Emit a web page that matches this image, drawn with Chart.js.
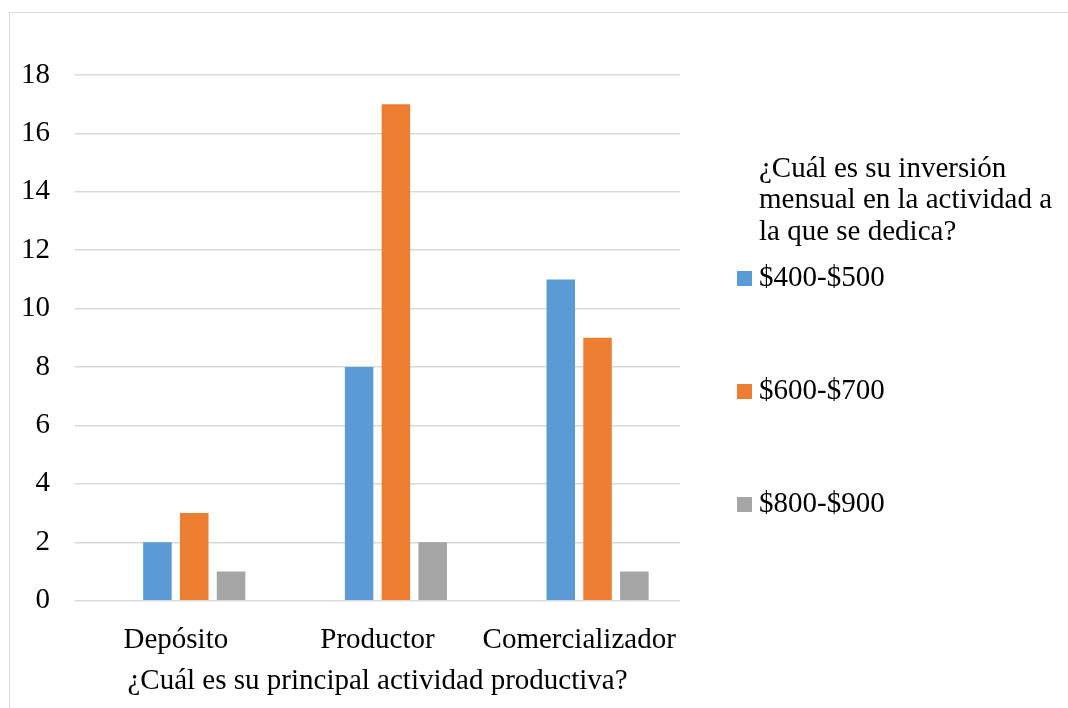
<!DOCTYPE html>
<html lang="es">
<head>
<meta charset="utf-8">
<title>Inversión mensual por actividad productiva</title>
<script src="https://cdn.jsdelivr.net/npm/chart.js@4/dist/chart.umd.min.js"></script>
<style>
  html, body { margin: 0; padding: 0; background: #fff; }
  #wrap { position: relative; width: 1068px; height: 708px; overflow: hidden; }
  #frame {
    position: absolute; left: 8.5px; top: 11.5px; right: -10px; bottom: -10px;
    border-top: 1.5px solid #d9d9d9; border-left: 1.5px solid #d9d9d9;
  }
  #chart { position: absolute; left: 0; top: 0; }
  #legend {
    position: absolute; left: 737px; top: 151.5px;
    font-family: "Liberation Serif", "Times New Roman", serif;
    font-size: 29px; line-height: 31.5px; color: #000; white-space: nowrap;
  }
  #legend .title { padding-left: 22px; }
  #legend .item { margin-top: 81.5px; }
  #legend .title + .item { margin-top: 14.5px; }
  #legend .swatch {
    display: inline-block; width: 15px; height: 15px; margin-right: 7px;
    vertical-align: baseline;
  }
</style>
</head>
<body>
<div id="wrap">
  <div id="frame"></div>
  <canvas id="chart" width="1068" height="708"></canvas>
  <div id="legend"></div>
</div>
<script>
// Categorías del eje horizontal
const categories = ['Depósito', 'Productor', 'Comercializador'];

// Rangos de inversión mensual (series)
const seriesNames = ['$400-$500', '$600-$700', '$800-$900'];
const seriesColors = ['#5B9BD5', '#ED7D31', '#A5A5A5'];

// Número de respuestas por rango e actividad
const inversion400a500 = [2, 8, 11];
const inversion600a700 = [3, 17, 9];
const inversion800a900 = [1, 2, 1];

// Serie "(en blanco)" de la tabla dinámica: sin valores, ocupa su hueco en cada grupo
const enBlanco = [null, null, null];

// Escala del eje vertical
const yMin = 0;
const yMax = 18;
const yStep = 2;

const axisTitle = '¿Cuál es su principal actividad productiva?';
const legendTitle = ['¿Cuál es su inversión', 'mensual en la actividad a', 'la que se dedica?'];

const serieValues = [inversion400a500, inversion600a700, inversion800a900];

const font = { family: '"Liberation Serif", "Times New Roman", serif', size: 29 };

const datasets = [
  { label: '(en blanco)', data: enBlanco, backgroundColor: 'rgba(0,0,0,0)' }
].concat(serieValues.map((vals, i) => ({
  label: seriesNames[i],
  data: vals,
  backgroundColor: seriesColors[i],
  borderWidth: 0
})));

new Chart(document.getElementById('chart'), {
  type: 'bar',
  data: { labels: categories, datasets: datasets },
  options: {
    responsive: false,
    animation: false,
    events: [],
    categoryPercentage: 0.73,
    barPercentage: 0.775,
    layout: { padding: { left: 0, top: 75, right: 388, bottom: 0 } },
    plugins: {
      legend: { display: false },
      tooltip: { enabled: false },
      title: { display: false }
    },
    scales: {
      x: {
        grid: { display: false },
        border: { display: false },
        ticks: { color: '#000', font: font, padding: 14, maxRotation: 0, autoSkip: false },
        title: {
          display: true, text: axisTitle, color: '#000', font: font,
          padding: { top: 0, bottom: 9.6 }
        },
        afterFit(scale) { scale.height = 107.3; }
      },
      y: {
        min: yMin, max: yMax,
        ticks: { stepSize: yStep, color: '#000', font: font, padding: 25 },
        grid: { color: '#d9d9d9', lineWidth: 1.5, drawTicks: false },
        border: { display: false },
        afterFit(scale) { scale.width = 75; }
      }
    }
  }
});

// Leyenda con título de varias líneas
const legend = document.getElementById('legend');
const titleEl = document.createElement('div');
titleEl.className = 'title';
legendTitle.forEach((line, i) => {
  if (i) titleEl.appendChild(document.createElement('br'));
  titleEl.appendChild(document.createTextNode(line));
});
legend.appendChild(titleEl);
seriesNames.forEach((name, i) => {
  const item = document.createElement('div');
  item.className = 'item';
  const sw = document.createElement('span');
  sw.className = 'swatch';
  sw.style.background = seriesColors[i];
  item.appendChild(sw);
  item.appendChild(document.createTextNode(name));
  legend.appendChild(item);
});
</script>
</body>
</html>
